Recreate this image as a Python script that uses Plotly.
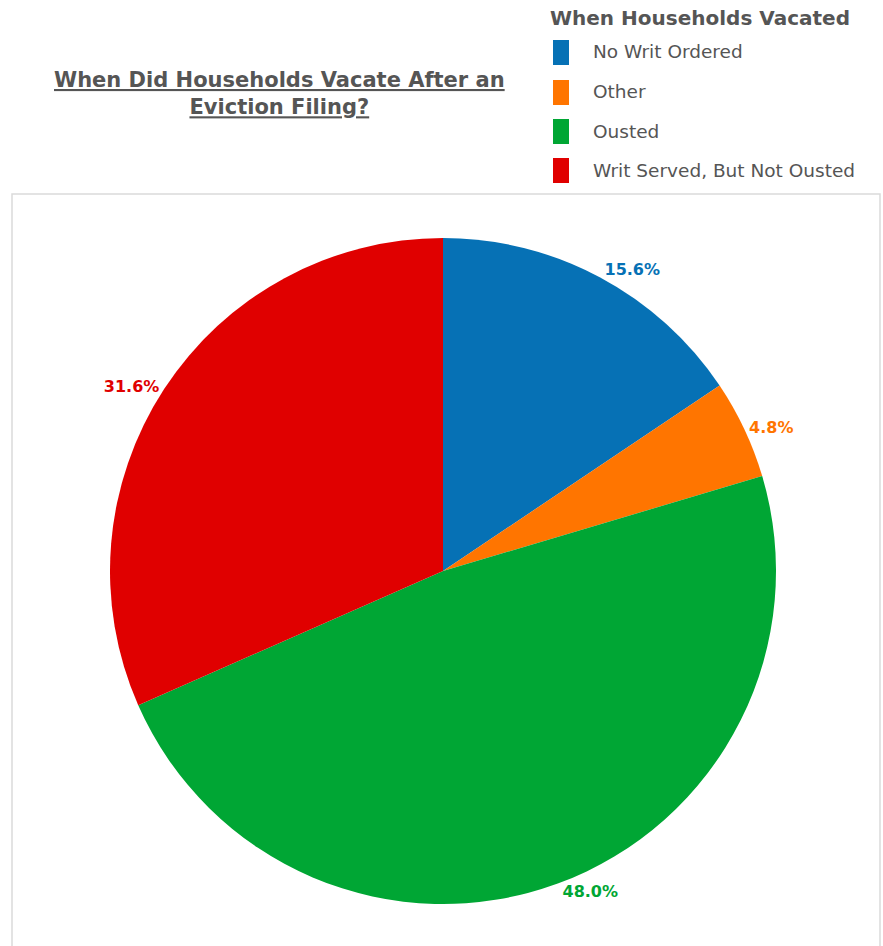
import plotly.graph_objects as go

# Share of households by when they vacated after an eviction filing
categories = ["No Writ Ordered", "Other", "Ousted", "Writ Served, But Not Ousted"]
shares = [15.6, 4.8, 48.0, 31.6]
colors = ["#0671B5", "#FF7500", "#00A634", "#E00000"]

chart_title = "When Did Households Vacate After an<br>Eviction Filing?"
legend_title = "When Households Vacated"

W, H = 883, 946
FONT = "DejaVu Sans, Liberation Sans, Arial, sans-serif"
GREY = "#555555"

fig = go.Figure(
    go.Pie(
        labels=categories,
        values=shares,
        sort=False,
        direction="clockwise",
        rotation=0,
        marker=dict(colors=colors, line=dict(width=0)),
        texttemplate="%{value:.1f}%",
        textposition="outside",
        outsidetextfont=dict(family=FONT, size=16, color=colors, weight="bold"),
        domain=dict(x=[110 / W, 776 / W], y=[42 / H, 708 / H]),
        showlegend=False,
        hoverinfo="label+value",
    )
)

shapes = [
    # chart panel border
    dict(type="rect", xref="paper", yref="paper",
         x0=12 / W, x1=880 / W, y0=-0.01, y1=(H - 194) / H,
         line=dict(color="#DADADA", width=1.5), fillcolor="rgba(0,0,0,0)", layer="below"),
]
annotations = [
    dict(text="<u>" + chart_title.replace("<br>", "</u><br><u>") + "</u>",
         x=279 / W, y=(H - 93) / H, xref="paper", yref="paper",
         xanchor="center", yanchor="middle", showarrow=False, align="center",
         font=dict(family=FONT, size=21, color=GREY, weight="bold")),
    dict(text=legend_title, x=548 / W, y=(H - 18) / H, xref="paper", yref="paper",
         xanchor="left", yanchor="middle", showarrow=False,
         font=dict(family=FONT, size=20, color=GREY, weight="bold")),
]

# legend swatches and entries
row_y = [52, 92, 131, 170]
for name, col, yy in zip(categories, colors, row_y):
    shapes.append(dict(type="rect", xref="paper", yref="paper",
                       x0=553 / W, x1=569 / W, y0=(H - yy - 13) / H, y1=(H - yy + 12) / H,
                       fillcolor=col, line=dict(width=0)))
    annotations.append(dict(text=name, x=591 / W, y=(H - yy) / H, xref="paper", yref="paper",
                            xanchor="left", yanchor="middle", showarrow=False,
                            font=dict(family=FONT, size=18.5, color=GREY)))

fig.update_layout(
    width=W, height=H,
    margin=dict(l=0, r=0, t=0, b=0),
    paper_bgcolor="white",
    plot_bgcolor="white",
    shapes=shapes,
    annotations=annotations,
)

fig.write_html("out.html")
